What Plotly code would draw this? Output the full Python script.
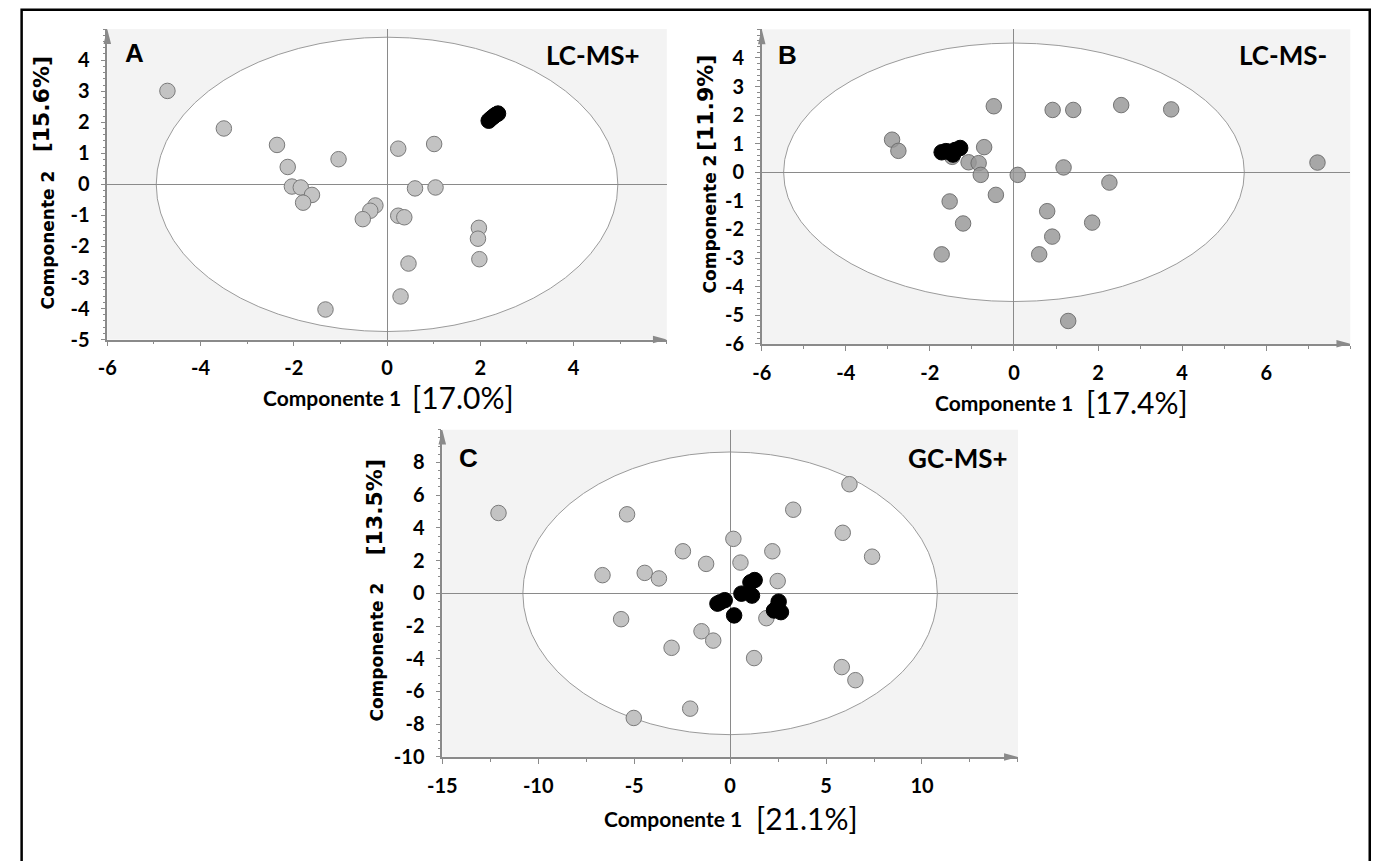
import plotly.graph_objects as go

W, H = 1374, 861

# ---- panel A: LC-MS+ scores ----
a_grey_x = [-4.71, -3.50, -2.36, -2.13, -1.04, -2.04, -1.85, -1.61, -1.80, -0.25, -0.36, -0.52,
            0.24, 1.01, 0.60, 1.04, 0.24, 0.37, 1.97, 1.95, 1.98, 0.46, 0.29, -1.32]
a_grey_y = [3.01, 1.80, 1.27, 0.56, 0.81, -0.07, -0.10, -0.34, -0.59, -0.68, -0.85, -1.12,
            1.15, 1.30, -0.13, -0.10, -1.01, -1.06, -1.40, -1.75, -2.41, -2.55, -3.61, -4.03]
a_black_x = [2.18, 2.23, 2.28, 2.33, 2.38]
a_black_y = [2.05, 2.12, 2.18, 2.24, 2.28]

# ---- panel B: LC-MS- scores ----
b_grey_x = [-0.48, 0.92, 1.41, 2.55, 3.74, -2.90, -2.75, -0.71, -1.08, -0.84, -0.79, -1.47,
            0.09, 1.18, 2.27, 7.22, -0.43, -1.53, -1.21, -1.72, 0.79, 0.91, 1.86, 0.60, 1.29]
b_grey_y = [2.31, 2.18, 2.18, 2.35, 2.20, 1.14, 0.75, 0.88, 0.35, 0.32, -0.09, 0.54,
            -0.09, 0.17, -0.36, 0.34, -0.79, -1.02, -1.79, -2.87, -1.36, -2.25, -1.76, -2.87, -5.20]
b_black_x = [-1.72, -1.62, -1.55, -1.45, -1.40, -1.28]
b_black_y = [0.70, 0.74, 0.72, 0.62, 0.78, 0.85]

# ---- panel C: GC-MS+ scores ----
c_grey_x = [-12.07, -5.37, 6.22, 3.29, 5.87, 7.40, 0.17, 2.20, -2.46, -1.25, 0.54, -6.65, -4.45,
            -3.71, 2.48, -5.68, -1.49, -0.88, -3.05, 1.89, 1.25, 5.82, 6.53, -2.08, -5.02]
c_grey_y = [4.91, 4.83, 6.67, 5.11, 3.70, 2.24, 3.33, 2.57, 2.57, 1.80, 1.88, 1.11, 1.25,
            0.91, 0.75, -1.58, -2.32, -2.89, -3.33, -1.52, -3.96, -4.51, -5.31, -7.05, -7.62]
c_black_x = [-0.66, -0.52, -0.28, 0.21, 0.59, 1.14, 1.06, 1.28, 2.53, 2.29, 2.65, 2.46]
c_black_y = [-0.63, -0.55, -0.42, -1.35, -0.02, -0.14, 0.67, 0.81, -0.51, -1.05, -1.15, -0.85]

# Hotelling ellipse semi-axes (t1, t2)
a_ellipse = [4.95, 4.74]
b_ellipse = [5.48, 4.52]
c_ellipse = [10.8, 8.64]

# tick values (labels use a plain hyphen for negatives)
a_xticks = [-6, -4, -2, 0, 2, 4]
a_yticks = [-5, -4, -3, -2, -1, 0, 1, 2, 3, 4]
b_xticks = [-6, -4, -2, 0, 2, 4, 6]
b_yticks = [-6, -5, -4, -3, -2, -1, 0, 1, 2, 3, 4]
c_xticks = [-15, -10, -5, 0, 5, 10]
c_yticks = [-10, -8, -6, -4, -2, 0, 2, 4, 6, 8]

panel_letters = ["A", "B", "C"]
panel_methods = ["LC-MS+", "LC-MS-", "GC-MS+"]
pc1_var = ["[17.0%]", "[17.4%]", "[21.1%]"]
pc2_var = ["[15.6%]", "[11.9%]", "[13.5%]"]
pc1_name = "Componente 1"
pc2_name = "Componente 2"

AXIS_GREY = "#8a8a8a"
BG = "#f3f3f3"


def px(x):
    return x / W


def py(y):
    return 1 - y / H


# plot-area boxes in pixels: left, right, top, bottom
panels = [
    dict(xs="x", ys="y", box=(93.3, 659, 29.5, 344),
         xr=[-6, 6], yr=[-5, 5], xt=a_xticks, yt=a_yticks, xminor=1, yminor=0.2,
         grey=(a_grey_x, a_grey_y), black=(a_black_x, a_black_y), ell=a_ellipse,
         gfill="#c3c3c3", gline="#7a7a7a"),
    dict(xs="x2", ys="y2", box=(755, 1350, 29.7, 348.3),
         xr=[-6, 8], yr=[-6, 5], xt=b_xticks, yt=b_yticks, xminor=1, yminor=0.2,
         grey=(b_grey_x, b_grey_y), black=(b_black_x, b_black_y), ell=b_ellipse,
         gfill="rgba(150,150,150,0.82)", gline="rgba(105,105,105,0.9)"),
    dict(xs="x3", ys="y3", box=(432, 1014, 435.3, 766.7),
         xr=[-15, 15], yr=[-10, 10], xt=c_xticks, yt=c_yticks, xminor=2.5, yminor=0.5,
         grey=(c_grey_x, c_grey_y), black=(c_black_x, c_black_y), ell=c_ellipse,
         gfill="#c3c3c3", gline="#7a7a7a"),
]

fig = go.Figure()
shapes = []
layout_axes = {}
tickfont = dict(family="Lato", size=20, color="black", weight="bold")


def tri(points):
    return "M " + " L ".join(f"{px(x):.5f},{py(y):.5f}" for x, y in points) + " Z"


for p in panels:
    gx, gy = p["grey"]
    bx, by = p["black"]
    fig.add_trace(go.Scatter(
        x=gx, y=gy, mode="markers", xaxis=p["xs"], yaxis=p["ys"], showlegend=False,
        marker=dict(size=15.5, color=p["gfill"], line=dict(color=p["gline"], width=1))))
    fig.add_trace(go.Scatter(
        x=bx, y=by, mode="markers", xaxis=p["xs"], yaxis=p["ys"], showlegend=False,
        marker=dict(size=15.5, color="black", line=dict(color="black", width=1))))

    left, right, top, bottom = p["box"]
    xa_name = "xaxis" + p["xs"][1:]
    ya_name = "yaxis" + p["ys"][1:]
    common = dict(showgrid=False, zeroline=True, zerolinecolor=AXIS_GREY, zerolinewidth=1,
                  showline=True, linecolor=AXIS_GREY, linewidth=1.5, mirror=False,
                  ticks="outside", ticklen=5, tickcolor=AXIS_GREY, tickwidth=1,
                  tickfont=tickfont, fixedrange=True)
    layout_axes[xa_name] = dict(common, domain=[px(left), px(right)], range=p["xr"],
                                anchor=p["ys"], tickvals=p["xt"],
                                ticktext=[str(v) for v in p["xt"]], ticklabelstandoff=5,
                                minor=dict(ticks="outside", ticklen=3, tickcolor=AXIS_GREY,
                                           dtick=p["xminor"], tick0=0))
    layout_axes[ya_name] = dict(common, domain=[py(bottom), py(top)], range=p["yr"],
                                anchor=p["xs"], tickvals=p["yt"],
                                ticktext=[str(v) for v in p["yt"]], ticklabelstandoff=7,
                                minor=dict(ticks="outside", ticklen=3, tickcolor=AXIS_GREY,
                                           dtick=p["yminor"], tick0=0))

    # confidence ellipse
    ex, ey = p["ell"]
    shapes.append(dict(type="circle", xref=p["xs"], yref=p["ys"], x0=-ex, x1=ex, y0=-ey, y1=ey,
                       fillcolor="white", line=dict(color="#9a9a9a", width=1), layer="below"))
    # arrow heads at the far ends of both axes
    shapes.append(dict(type="path", xref="paper", yref="paper",
                       path=tri([(right, bottom), (right - 14, bottom - 3.8),
                                 (right - 14, bottom + 3.8)]),
                       fillcolor=AXIS_GREY, line=dict(width=0), layer="above"))
    shapes.append(dict(type="path", xref="paper", yref="paper",
                       path=tri([(left, top), (left - 3.8, top + 15), (left + 3.8, top + 15)]),
                       fillcolor=AXIS_GREY, line=dict(width=0), layer="above"))

# outer frame
shapes.append(dict(type="rect", xref="paper", yref="paper", x0=px(6.7), x1=px(1369.7),
                   y0=-0.02, y1=py(10), line=dict(color="black", width=2.5),
                   fillcolor="rgba(0,0,0,0)", layer="above"))

annotations = []
# panel letter / method, axis titles (pixel positions)
letter_pos = [(121, 54), (781, 56), (459, 464)]
method_pos = [(634, 56), (1328, 56), (1006, 464)]
pc1_pos = [(320, 403), (1000, 408), (665, 829)]
pc1v_pos = [(453, 402), (1134, 407), (801, 829)]
pc2_pos = [(33, 243), (703, 227), (366, 661)]
pc2v_pos = [(27, 106), (698, 104), (363, 514)]

for i in range(3):
    annotations.append(dict(text=panel_letters[i], x=px(letter_pos[i][0]), y=py(letter_pos[i][1]),
                            xref="paper", yref="paper", showarrow=False, xanchor="center",
                            yanchor="middle",
                            font=dict(family="Liberation Sans", size=26, color="black",
                                      weight="bold")))
    annotations.append(dict(text=panel_methods[i], x=px(method_pos[i][0]), y=py(method_pos[i][1]),
                            xref="paper", yref="paper", showarrow=False, xanchor="right",
                            yanchor="middle",
                            font=dict(family="Lato", size=26, color="black", weight="bold")))
    annotations.append(dict(text=pc1_name, x=px(pc1_pos[i][0]), y=py(pc1_pos[i][1]),
                            xref="paper", yref="paper", showarrow=False, xanchor="center",
                            yanchor="middle",
                            font=dict(family="Lato", size=21, color="black", weight="bold")))
    annotations.append(dict(text=pc1_var[i], x=px(pc1v_pos[i][0]), y=py(pc1v_pos[i][1]),
                            xref="paper", yref="paper", showarrow=False, xanchor="center",
                            yanchor="middle",
                            font=dict(family="Lato", size=30, color="black")))
    annotations.append(dict(text=pc2_name, x=px(pc2_pos[i][0]), y=py(pc2_pos[i][1]),
                            xref="paper", yref="paper", showarrow=False, xanchor="center",
                            yanchor="middle", textangle=-90,
                            font=dict(family="DejaVu Sans", size=17, color="black",
                                      weight="bold")))
    annotations.append(dict(text=pc2_var[i], x=px(pc2v_pos[i][0]), y=py(pc2v_pos[i][1]),
                            xref="paper", yref="paper", showarrow=False, xanchor="center",
                            yanchor="middle", textangle=-90,
                            font=dict(family="DejaVu Sans", size=22, color="black",
                                      weight="bold")))

fig.update_layout(
    width=W, height=H, margin=dict(l=0, r=0, t=0, b=0),
    paper_bgcolor="white", plot_bgcolor=BG, showlegend=False,
    shapes=shapes, annotations=annotations, **layout_axes)

fig.write_html("out.html", config={"displayModeBar": False})
